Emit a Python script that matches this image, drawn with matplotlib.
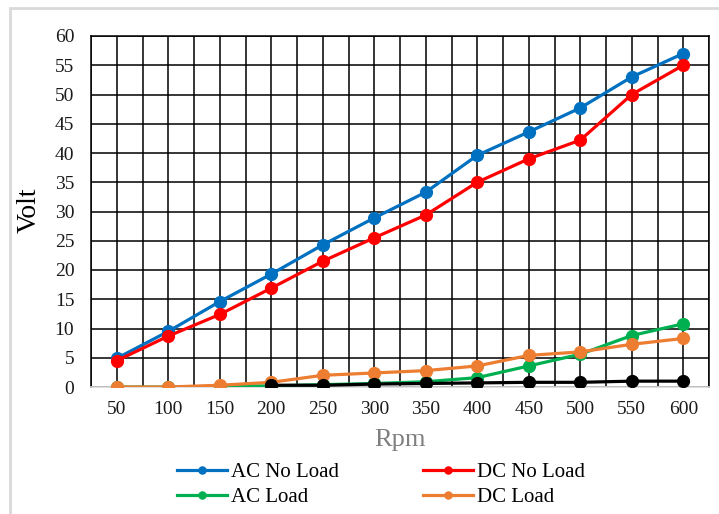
import numpy as np
import matplotlib
matplotlib.use('Agg')
import matplotlib.pyplot as plt
from matplotlib.patches import Rectangle

# Data
rpm = [50, 100, 150, 200, 250, 300, 350, 400, 450, 500, 550, 600]
ac_no_load = [4.9, 9.5, 14.6, 19.3, 24.3, 28.9, 33.3, 39.6, 43.6, 47.7, 53.0, 57.0]
dc_no_load = [4.5, 8.7, 12.4, 16.9, 21.5, 25.5, 29.4, 35.0, 39.0, 42.2, 50.0, 55.0]
ac_load = [0.0, 0.0, 0.1, 0.2, 0.4, 0.6, 0.9, 1.6, 3.6, 5.6, 8.8, 10.8]
dc_load = [0.0, 0.0, 0.3, 0.8, 2.0, 2.4, 2.8, 3.6, 5.4, 6.0, 7.3, 8.3]
other = [np.nan, np.nan, np.nan, 0.3, 0.3, 0.5, 0.6, 0.7, 0.8, 0.8, 1.0, 1.0]

plt.rcParams['font.family'] = ['Liberation Serif', 'DejaVu Serif']

fig = plt.figure(figsize=(7.19, 5.14), dpi=100)
ax = fig.add_axes([91 / 719, 1 - 387 / 514, 618 / 719, 351 / 514])

x = np.arange(len(rpm))
series = [
    (ac_no_load, '#0070C0', 'AC No Load'),
    (dc_no_load, '#FF0000', 'DC No Load'),
    (ac_load, '#00B050', 'AC Load'),
    (dc_load, '#ED7D31', 'DC Load'),
    (other, '#000000', '_nolegend_'),
]
lines = []
for vals, col, lab in series:
    ln, = ax.plot(x, vals, color=col, lw=2.3, marker='o', ms=8.5, label=lab, zorder=3)
    lines.append(ln)

ax.set_xlim(-0.5, len(rpm) - 0.5)
ax.set_ylim(0, 60)
ax.set_xticks(x)
ax.set_xticklabels([str(r) for r in rpm])
ax.set_xticks(np.arange(-0.5, len(rpm)), minor=True)
ax.set_yticks(np.arange(0, 61, 5))
ax.grid(True, which='both', color='black', lw=1.1, zorder=1)
ax.set_axisbelow(True)
ax.tick_params(axis='both', which='both', length=0, labelsize=14, colors='#1a1a1a')
ax.tick_params(axis='y', pad=12)
ax.tick_params(axis='x', pad=10)

for s in ['left', 'top', 'right']:
    ax.spines[s].set_color('black')
    ax.spines[s].set_linewidth(1.1)
ax.spines['bottom'].set_color('#d9d9d9')
ax.spines['bottom'].set_linewidth(1.2)

fig.text(29 / 719, 1 - 210 / 514, 'Volt', rotation=90, ha='center', va='center',
         fontsize=20, color='black')
ax.set_xlabel('Rpm', fontsize=19, color='#7f7f7f')
ax.xaxis.set_label_coords(0.5, -0.12)

# column-wise fill -> order so rows read AC No Load | DC No Load, AC Load | DC Load
order = [0, 2, 1, 3]
fig.legend([lines[i] for i in order], [series[i][2] for i in order],
           loc='center', bbox_to_anchor=(381 / 719, 1 - 485 / 514), ncol=2,
           frameon=False, fontsize=15, handlelength=2.4, columnspacing=4.0,
           markerscale=0.6, labelspacing=0.25, handletextpad=0.2)

# light border of the original chart area
fig.patches.append(Rectangle((10 / 719, -0.1), 1.2, 1.1 - 8 / 514,
                             transform=fig.transFigure, fill=False,
                             edgecolor='#d9d9d9', lw=2))

fig.savefig('out.png', dpi=100)
